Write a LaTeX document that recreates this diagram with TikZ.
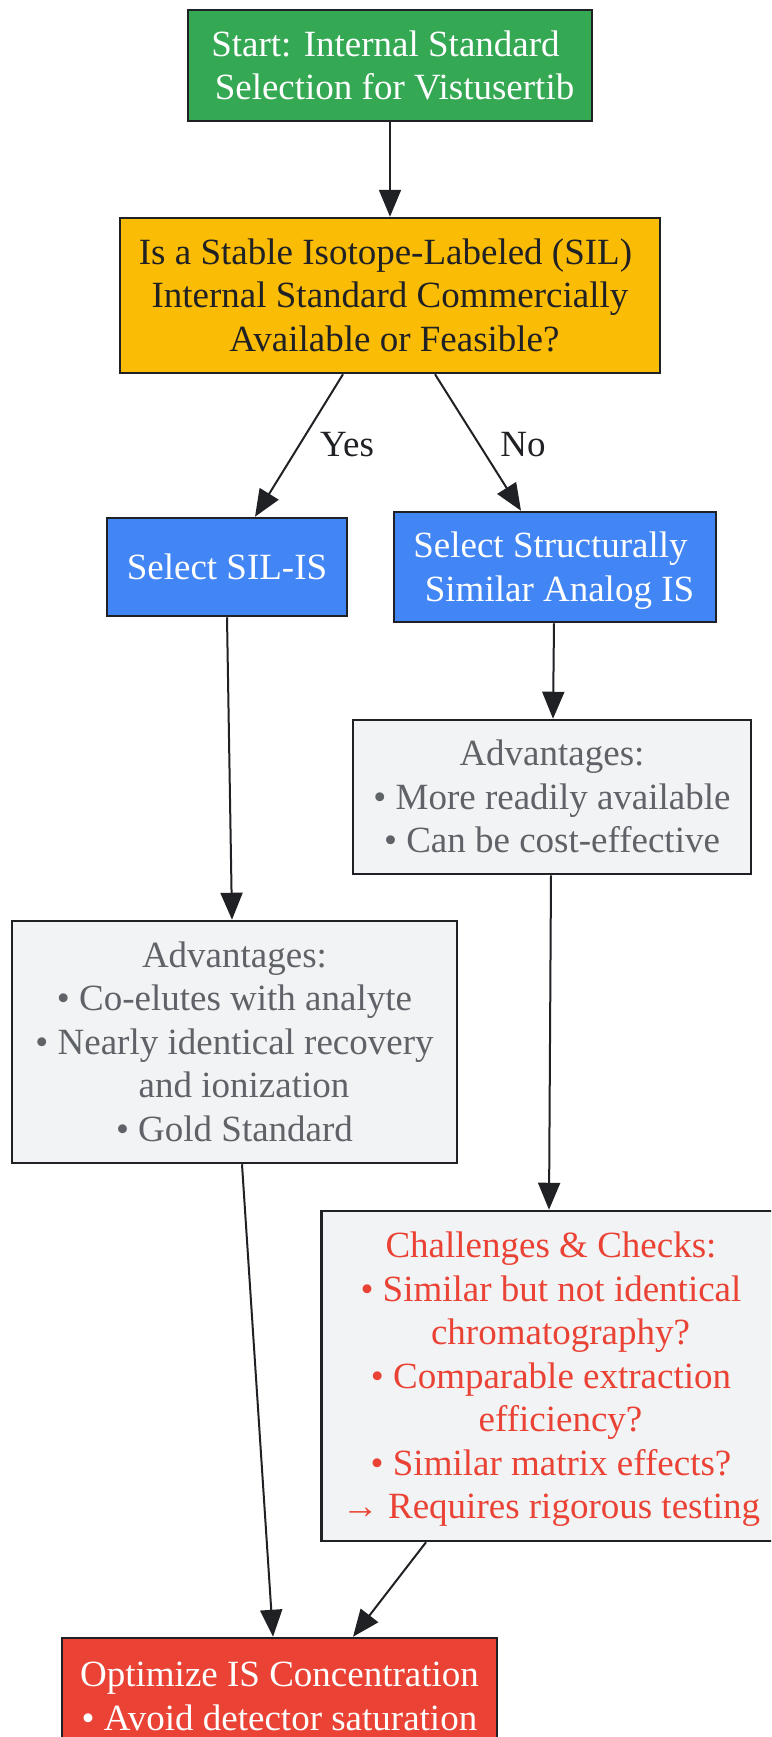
\documentclass[tikz,border=0pt]{standalone}
\usepackage{fontspec}
\setmainfont{Liberation Serif}
\usetikzlibrary{arrows.meta}
\definecolor{cgreen}{HTML}{34A853}
\definecolor{cyellow}{HTML}{FBBC05}
\definecolor{cblue}{HTML}{4285F4}
\definecolor{cgray}{HTML}{F1F3F4}
\definecolor{cred}{HTML}{EA4335}
\definecolor{cdark}{HTML}{202124}
\definecolor{ctext}{HTML}{5F6368}
\newcommand\myfs{\rule{0pt}{34.2pt}}
\newcommand\myls{\rule[-9.3pt]{0pt}{9.3pt}}
\newcommand\mysp[1]{\hspace*{#1pt}}
\tikzset{
  box/.style={draw=cdark, line width=2.5pt, inner sep=0pt, align=center},
  startbox/.style={box, fill=cgreen, text=white},
  decbox/.style={box, fill=cyellow, text=cdark},
  bluebox/.style={box, fill=cblue, text=white},
  advbox/.style={box, fill=cgray, text=ctext},
  chalbox/.style={box, fill=cgray, text=cred},
  endbox/.style={box, fill=cred, text=white},
  arr/.style={draw=cdark, line width=2pt, -{Triangle[length=27pt,width=22pt]}},
  lbl/.style={text=cdark, inner sep=0pt}
}
\begin{document}
\begin{tikzpicture}[x=1pt, y=-1pt, font=\fontsize{37}{43.5}\selectfont]
\useasboundingbox (0,0) rectangle (771,1737);
\clip (0,0) rectangle (771,1737);
\node[startbox, minimum width=404pt, minimum height=111pt] (start) at (390,65.5)
  {\myfs Start: Internal Standard\mysp{9}\\\mysp{9}Selection for Vistusertib\myls};
\node[decbox, minimum width=540pt, minimum height=155pt] (dec) at (390,295.5)
  {\myfs Is a Stable Isotope-Labeled (SIL)\mysp{9}\\Internal Standard Commercially\\\mysp{9}Available or Feasible?\myls};
\node[bluebox, minimum width=240pt, minimum height=98pt] (sil) at (227,567)
  {\myfs Select SIL-IS\myls};
\node[bluebox, minimum width=322pt, minimum height=110pt] (ana) at (555,567)
  {\myfs Select Structurally\mysp{9}\\\mysp{9}Similar Analog IS\myls};
\node[advbox, minimum width=398pt, minimum height=154pt] (advr) at (552,797)
  {\myfs Advantages:\\• More readily available\\• Can be cost-effective\myls};
\node[advbox, minimum width=445pt, minimum height=242pt] (advl) at (234.5,1042)
  {\myfs Advantages:\\• Co-elutes with analyte\\• Nearly identical recovery\mysp{12}\\\mysp{19}and ionization\\• Gold Standard\myls};
\node[chalbox, minimum width=459pt, minimum height=330pt] (chal) at (551,1376)
  {\myfs Challenges \& Checks:\\• Similar but not identical\mysp{12}\\\mysp{19}chromatography?\\• Comparable extraction\mysp{12}\\\mysp{19}efficiency?\\• Similar matrix effects?\\→ Requires rigorous testing\myls};
\node[endbox, minimum width=435pt, minimum height=116pt] (opt) at (279.5,1696)
  {\myfs Optimize IS Concentration\\• Avoid detector saturation\myls};

\draw[arr] (start.south) -- (dec.north);
\draw[arr] ([xshift=-47pt]dec.south) -- ([xshift=28pt]sil.north);
\draw[arr] ([xshift=45pt]dec.south) -- ([xshift=-34pt]ana.north);
\node[lbl] (yes) at (347,445) {Yes};
\node[lbl] (no) at (523,445) {No};
\draw[arr] (sil.south) -- ([xshift=-2.5pt]advl.north);
\draw[arr] ([xshift=-1pt]ana.south) -- ([xshift=1pt]advr.north);
\draw[arr] ([xshift=-1pt]advr.south) -- ([xshift=-2pt]chal.north);
\draw[arr] ([xshift=7.5pt]advl.south) -- ([xshift=-6.5pt]opt.north);
\draw[arr] ([xshift=-125pt]chal.south) -- ([xshift=73.5pt]opt.north);
\end{tikzpicture}
\end{document}
